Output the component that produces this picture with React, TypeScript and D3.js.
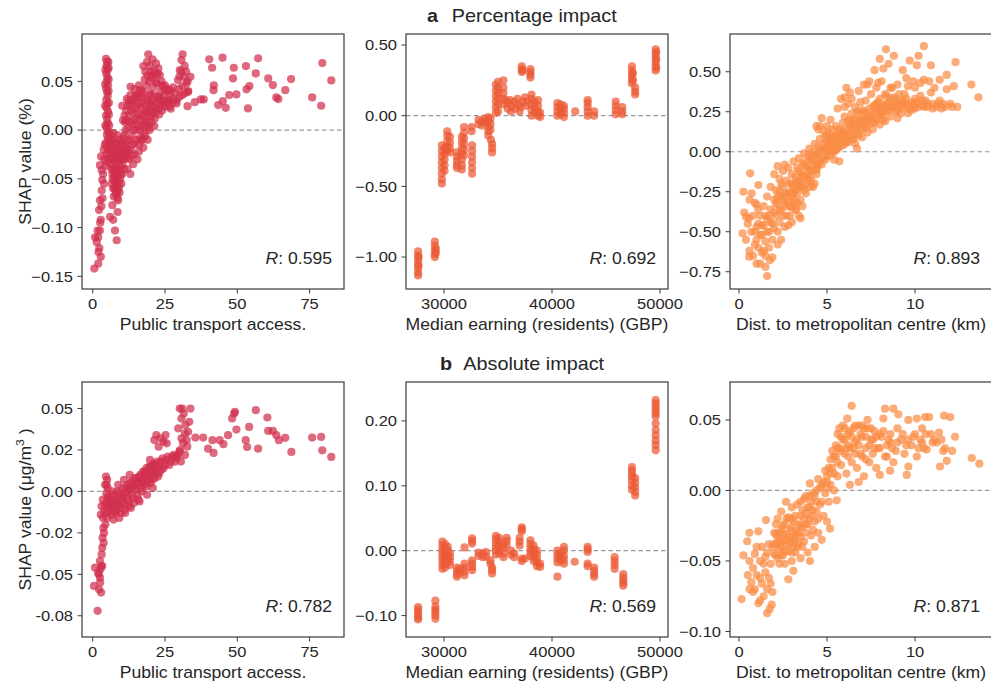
import React from 'react';
import * as d3 from 'd3';

type Pt = [number, number];
type Col = [number, number[]];

// ---- a: percentage impact ----
const transportPct: Pt[] = [
  // vertical streak near x = 5
  [4.6, 0.073], [5.0, 0.070], [4.8, 0.066], [5.2, 0.062], [4.7, 0.058], [5.1, 0.054], [4.9, 0.050], [5.3, 0.046],
  [4.6, 0.043], [5.0, 0.039], [5.2, 0.035], [4.7, 0.031], [5.1, 0.027], [4.8, 0.023], [5.3, 0.019], [4.6, 0.015],
  [5.0, 0.011], [5.2, 0.007], [4.7, 0.003], [5.1, -0.001], [4.9, -0.005], [5.3, -0.009], [4.6, -0.013], [5.0, -0.017],
  [5.4, -0.021], [4.8, -0.025], [5.5, -0.029], [5.0, -0.033], [4.4, -0.037], [5.8, -0.012], [6.0, -0.020], [5.7, 0.005],
  [5.5, 0.064], [5.5, 0.052], [5.5, 0.040], [5.6, 0.028], [5.6, 0.016], [5.8, -0.002], [4.3, 0.047], [4.3, 0.025],
  [4.4, 0.005], [4.2, -0.015], [5.4, 0.070], [4.4, 0.062],
  // lower left
  [0.55, -0.142], [0.8, -0.110], [1.4, -0.115], [1.9, -0.110], [1.7, -0.103], [2.5, -0.103], [2.3, -0.121], [2.8, -0.130],
  [1.9, -0.137], [2.2, -0.082], [2.5, -0.072], [3.1, -0.062], [2.8, -0.092], [2.5, -0.036], [2.9, -0.027], [3.1, -0.041],
  [3.3, -0.051], [3.6, -0.045], [3.9, -0.055], [3.4, -0.070], [2.6, -0.095], [2.0, -0.125], [3.0, -0.078], [4.0, -0.030],
  [3.8, -0.020],
  // V-shaped cluster
  [6.2, -0.015], [6.5, -0.025], [6.3, -0.035], [6.8, -0.045], [7.0, -0.018], [7.2, -0.030], [7.0, -0.040], [7.4, -0.052],
  [7.1, -0.060], [7.6, -0.022], [7.8, -0.035], [7.7, -0.046], [7.9, -0.058], [8.0, -0.066], [8.2, -0.028], [8.4, -0.040],
  [8.3, -0.052], [8.5, -0.062], [8.6, -0.070], [8.8, -0.020], [9.0, -0.032], [8.9, -0.045], [9.1, -0.056], [9.3, -0.064],
  [9.4, -0.025], [9.6, -0.038], [9.5, -0.050], [9.8, -0.015], [10.0, -0.030], [10.2, -0.045], [10.4, -0.022], [6.0, -0.089],
  [6.8, -0.077], [7.7, -0.103], [8.3, -0.113], [8.6, -0.084], [7.1, -0.092], [8.8, -0.072], [7.3, -0.068], [9.9, -0.055],
  [6.6, -0.055], [8.1, -0.013], [9.2, -0.010], [10.6, -0.008],
  [6.0, -0.005], [6.4, -0.010], [6.7, -0.030], [6.9, -0.050], [7.3, -0.010], [7.5, -0.042], [7.4, -0.025], [7.9, -0.015],
  [8.0, -0.045], [8.1, -0.038], [8.2, -0.055], [8.7, -0.030], [8.6, -0.050], [9.0, -0.060], [9.2, -0.042], [9.5, -0.020],
  [9.7, -0.030], [9.8, -0.045], [10.1, -0.012], [10.3, -0.035], [10.6, -0.025], [10.8, -0.040], [11.0, -0.030], [11.3, -0.015],
  [6.5, -0.040], [7.6, -0.060], [8.4, -0.065], [9.1, -0.025], [7.2, -0.003], [8.5, -0.005],
  // rising wedge
  [10.8, -0.018], [11.0, -0.005], [11.2, 0.008], [11.5, 0.020], [11.8, 0.032], [12.0, -0.012], [12.3, 0.002], [12.5, 0.014],
  [12.8, 0.026], [13.0, 0.036], [13.2, -0.020], [13.5, -0.006], [13.8, 0.006], [14.0, 0.018], [14.3, 0.030], [14.6, -0.014],
  [15.0, 0.000], [15.2, 0.012], [15.5, 0.024], [15.8, 0.034], [16.0, -0.022], [16.3, -0.008], [16.5, 0.004], [16.8, 0.016],
  [17.0, 0.028], [17.3, 0.038], [17.6, -0.004], [18.0, 0.008], [18.3, 0.020], [18.6, 0.032], [19.0, 0.002], [19.3, 0.014],
  [19.6, 0.026], [20.0, 0.036], [20.3, 0.008], [20.6, 0.018], [21.0, 0.030], [21.5, 0.012], [22.0, 0.022], [22.5, 0.034],
  [23.0, 0.016], [23.5, 0.026], [24.0, 0.020], [24.5, 0.030], [25.0, 0.024], [26.0, 0.028], [27.0, 0.022], [28.0, 0.032],
  [11.5, -0.025], [12.8, -0.030], [14.5, -0.025], [13.0, -0.045], [15.5, -0.030], [17.5, -0.018], [19.0, -0.010], [12.0, -0.040],
  [10.5, 0.010], [10.2, 0.025],
  [11.0, 0.015], [11.4, 0.000], [11.7, 0.010], [12.0, 0.025], [12.2, -0.020], [12.6, -0.010], [12.6, 0.030], [13.0, 0.008],
  [13.3, 0.020], [13.5, 0.028], [13.7, -0.015], [14.1, 0.000], [14.2, 0.010], [14.6, 0.022], [14.8, 0.035], [15.0, -0.010],
  [15.3, 0.005], [15.6, 0.016], [15.9, 0.028], [16.1, -0.015], [16.4, 0.000], [16.6, 0.010], [16.9, 0.022], [17.1, 0.034],
  [17.3, -0.010], [17.8, 0.003], [17.8, 0.014], [18.1, 0.026], [18.2, -0.006], [18.5, 0.008], [18.8, 0.018], [19.1, 0.030],
  [19.4, 0.006], [19.8, 0.020], [20.1, 0.028], [20.4, 0.014], [20.9, 0.024], [21.2, 0.036], [21.7, 0.018], [22.2, 0.028],
  [22.8, 0.022], [23.3, 0.032], [23.8, 0.030], [24.6, 0.026], [25.5, 0.030], [26.5, 0.024], [27.5, 0.028], [29.0, 0.030],
  [30.0, 0.034], [31.0, 0.036], [32.0, 0.038], [33.0, 0.040], [10.9, -0.028], [11.8, -0.022], [12.4, -0.028], [13.6, -0.026],
  [14.0, -0.035], [16.8, -0.010], [19.7, 0.000], [21.3, 0.004],
  [14.5, 0.042], [16.0, 0.046], [17.0, 0.040], [18.5, 0.045], [19.5, 0.050], [21.0, 0.044], [22.0, 0.048], [23.5, 0.040],
  [25.0, 0.038], [26.5, 0.036], [24.0, 0.046], [20.5, 0.056], [18.0, 0.052],
  // upper cluster
  [19.2, 0.0777], [20.7, 0.0726], [21.9, 0.0684], [22.7, 0.0633], [17.5, 0.0657], [18.2, 0.0599], [21.2, 0.0609], [23.2, 0.0565],
  [20.4, 0.053], [22.1, 0.0486], [24.4, 0.0445], [25.5, 0.041], [27.8, 0.0438], [31.1, 0.0777], [30.7, 0.0719], [30.1, 0.0616],
  [31.6, 0.0547], [29.5, 0.0513], [32.4, 0.0479], [33.0, 0.0393], [30.7, 0.0599], [33.8, 0.0547], [13.1, 0.0445], [16.3, 0.041],
  [15.2, 0.036], [14.0, 0.0308], [19.8, 0.0377], [23.2, 0.0342], [26.7, 0.0308], [29.0, 0.0274],
  [18.8, 0.070], [19.8, 0.066], [20.0, 0.060], [21.6, 0.056], [22.5, 0.058], [19.0, 0.056], [23.8, 0.050], [25.0, 0.046],
  [26.0, 0.042], [27.0, 0.040], [28.5, 0.038], [29.8, 0.042], [31.8, 0.066], [32.3, 0.060], [30.0, 0.055], [32.8, 0.050],
  [31.0, 0.045],
  // sparse tail
  [40.3, 0.0726], [41.3, 0.064], [44.9, 0.0743], [41.9, 0.046], [41.8, 0.041], [43.4, 0.0257], [45.0, 0.0298], [46.0, 0.0229],
  [47.2, 0.036], [48.8, 0.064], [48.5, 0.053], [49.7, 0.0366], [53.0, 0.0657], [53.2, 0.0418], [53.7, 0.0222], [54.2, 0.0452],
  [56.4, 0.0582], [57.2, 0.0736], [60.7, 0.053], [62.3, 0.0462], [63.5, 0.0335], [64.2, 0.0318], [66.6, 0.041], [68.6, 0.0524],
  [75.9, 0.0335], [79.0, 0.025], [79.4, 0.0688], [82.5, 0.051], [38.4, 0.0315], [35.3, 0.0287], [32.8, 0.0246], [37.4, 0.0315],
];

const earningPctCols: Col[] = [
  [27600, [-0.96, -0.99, -1.02, -1.05, -1.08, -1.11, -1.13]], [27650, [-1.0, -1.06]],
  [29150, [-0.89, -0.92, -0.95, -0.98, -1.0]], [29250, [-0.94, -0.97]],
  [29800, [-0.21, -0.25, -0.29, -0.33, -0.37, -0.41, -0.45, -0.48]],
  [30050, [-0.23, -0.27, -0.31, -0.35, -0.39]],
  [30300, [-0.11, -0.14, -0.18, -0.22, -0.25]],
  [30550, [-0.15, -0.19, -0.23, -0.26]],
  [31200, [-0.26, -0.29, -0.32, -0.35, -0.37]],
  [31650, [-0.15, -0.19, -0.23, -0.27, -0.31, -0.35, -0.38]],
  [31850, [-0.08, -0.12, -0.16, -0.20, -0.24, -0.28]],
  [32600, [-0.21, -0.25, -0.29, -0.33, -0.37, -0.41]], [32550, [-0.08, -0.11]],
  [33200, [-0.03, -0.06]], [33500, [-0.04, -0.07]], [33800, [-0.02, -0.05]],
  [34100, [-0.01, -0.04, -0.08, -0.11, -0.14]], [34300, [-0.02, -0.06, -0.10]],
  [34450, [-0.20, -0.23, -0.26]], [34350, [-0.17]],
  [34800, [0.02, 0.06, 0.10, 0.14, 0.18, 0.22]], [35000, [0.03, 0.08, 0.12, 0.16, 0.20, 0.24]],
  [35500, [0.08, 0.12, 0.16, 0.20, 0.25]],
  [35700, [0.11]], [35900, [0.05, 0.09]], [36100, [0.11]], [36200, [0.03]], [36300, [0.07]], [36500, [0.10]],
  [36600, [0.05]], [36800, [0.12]], [36900, [0.08]], [37000, [0.03]], [37100, [0.06]], [37300, [0.10, 0.32]],
  [37500, [0.13]], [37600, [0.07]], [37700, [0.10]],
  [37200, [0.31, 0.33, 0.35]],
  [38000, [0.27, 0.29, 0.31, 0.33]],
  [38100, [0.0, 0.04, 0.08, 0.12, 0.15]], [38400, [0.02, 0.06, 0.10]], [38700, [0.0, 0.03, 0.07, 0.11]], [38900, [-0.01, 0.02]],
  [40500, [0.0, 0.03, 0.06, 0.09]], [40800, [0.01, 0.05, 0.08]], [41100, [-0.01, 0.02, 0.05, 0.07]],
  [42150, [0.03]],
  [43300, [0.0, 0.03, 0.06, 0.09, 0.11]], [43900, [0.0, 0.03]],
  [45900, [0.01, 0.04, 0.07, 0.10]], [46500, [0.01, 0.03, 0.06]],
  [47400, [0.23, 0.26, 0.29, 0.32, 0.35]], [47500, [0.25, 0.30]],
  [47700, [0.15, 0.17, 0.20]],
  [49600, [0.32, 0.35, 0.38, 0.41, 0.44, 0.47]], [49650, [0.34, 0.40, 0.45]],
];

const distPct: Pt[] = [
  [0.2, -0.51], [0.25, -0.25], [0.63, -0.135], [0.57, -0.416], [0.58, -0.656], [1.1, -0.208], [1.6, -0.777], [1.76, -0.677],
  [0.72, -0.26], [0.9, -0.32], [0.4, -0.406],
  [0.3, -0.38], [0.5, -0.45], [0.4, -0.55], [0.6, -0.62], [0.7, -0.50], [0.8, -0.40], [0.9, -0.58], [1.0, -0.47],
  [0.8, -0.65], [1.0, -0.33], [0.6, -0.30],
  [1.1, -0.60], [1.2, -0.52], [1.2, -0.40], [1.3, -0.63], [1.4, -0.46], [1.4, -0.34], [1.5, -0.56], [1.5, -0.65],
  [1.6, -0.42], [1.6, -0.28], [1.7, -0.50], [1.7, -0.60], [1.8, -0.36], [1.8, -0.22], [1.9, -0.45], [1.9, -0.55],
  [2.0, -0.30], [2.0, -0.14], [1.2, -0.70], [1.4, -0.62], [1.9, -0.66],
  [2.1, -0.40], [2.1, -0.24], [2.2, -0.50], [2.2, -0.33], [2.3, -0.17], [2.3, -0.44], [2.4, -0.28], [2.4, -0.37],
  [2.5, -0.12], [2.5, -0.22], [2.6, -0.47], [2.6, -0.32], [2.7, -0.18], [2.7, -0.40], [2.8, -0.26], [2.8, -0.10],
  [2.9, -0.34], [2.9, -0.20], [3.0, -0.44], [3.0, -0.14], [2.4, -0.55], [2.2, -0.09], [2.6, -0.08], [3.0, -0.28],
  [3.1, -0.22], [3.1, -0.06], [3.2, -0.32], [3.2, -0.16], [3.3, -0.10], [3.3, -0.26], [3.4, -0.04], [3.4, -0.19],
  [3.5, -0.13], [3.5, -0.30], [3.6, -0.07], [3.6, -0.22], [3.7, -0.01], [3.7, -0.15], [3.8, -0.09], [3.8, -0.26],
  [3.9, -0.03], [3.9, -0.18], [4.0, -0.11], [4.0, 0.02], [3.4, -0.40], [3.2, -0.36], [3.6, -0.34], [3.5, -0.416],
  [3.24, -0.364], [4.03, -0.219], [4.41, -0.114],
  [4.1, -0.05], [4.1, -0.18], [4.2, 0.00], [4.2, -0.12], [4.3, 0.05], [4.3, -0.08], [4.4, -0.02], [4.4, -0.14],
  [4.5, 0.03], [4.5, 0.14], [4.6, -0.06], [4.6, 0.08], [4.7, 0.00], [4.7, 0.21], [4.8, -0.04], [4.8, 0.05],
  [4.9, 0.10], [4.9, 0.01], [5.0, -0.03], [5.0, 0.06], [4.2, -0.22], [4.4, 0.16],
  [5.1, 0.02], [5.1, 0.12], [5.2, -0.02], [5.2, 0.07], [5.3, 0.04], [5.3, 0.14], [5.4, 0.00], [5.4, 0.09],
  [5.5, 0.05], [5.5, 0.16], [5.6, 0.02], [5.6, 0.11], [5.7, -0.06], [5.7, 0.07], [5.8, 0.13], [5.8, 0.33],
  [5.9, 0.04], [5.9, 0.18], [6.0, 0.09], [6.0, 0.34], [6.1, 0.40], [5.4, -0.05], [6.0, 0.22],
  [6.1, 0.14], [6.2, 0.06], [6.2, 0.19], [6.3, 0.10], [6.3, 0.37], [6.4, 0.16], [6.4, 0.24], [6.5, 0.08],
  [6.5, 0.13], [6.6, 0.20], [6.6, 0.28], [6.7, 0.11], [6.7, 0.02], [6.8, 0.17], [6.8, 0.24], [6.9, 0.14],
  [6.9, 0.31], [7.0, 0.20], [7.0, 0.09], [6.6, 0.05],
  [7.1, 0.25], [7.1, 0.42], [7.2, 0.15], [7.2, 0.32], [7.3, 0.21], [7.3, 0.12], [7.4, 0.27], [7.5, 0.18],
  [7.5, 0.36], [7.6, 0.23], [7.6, 0.14], [7.7, 0.29], [7.7, 0.51], [7.8, 0.20], [7.8, 0.40], [7.9, 0.26],
  [8.0, 0.17], [8.0, 0.33], [8.0, 0.58], [7.4, 0.44],
  [8.1, 0.23], [8.1, 0.44], [8.2, 0.29], [8.3, 0.19], [8.3, 0.36], [8.4, 0.25], [8.35, 0.64], [8.5, 0.31],
  [8.5, 0.55], [8.6, 0.22], [8.6, 0.40], [8.7, 0.28], [8.8, 0.60], [8.8, 0.34], [8.9, 0.25], [9.0, 0.30],
  [9.0, 0.21], [8.7, 0.40],
  [9.1, 0.36], [9.2, 0.27], [9.3, 0.51], [9.3, 0.32], [9.5, 0.29], [9.6, 0.41], [9.6, 0.24], [9.7, 0.57],
  [9.8, 0.31], [9.9, 0.44], [10.0, 0.27], [10.1, 0.54], [10.1, 0.31], [10.2, 0.60], [10.3, 0.35], [10.4, 0.29],
  [10.5, 0.45], [10.5, 0.66], [10.6, 0.32], [9.4, 0.36],
  [10.7, 0.28], [10.9, 0.54], [10.9, 0.37], [11.0, 0.30], [11.2, 0.28], [11.4, 0.32], [11.4, 0.45], [11.6, 0.30],
  [11.7, 0.28], [11.8, 0.48], [11.8, 0.39], [12.1, 0.28], [12.2, 0.41], [12.3, 0.56], [13.2, 0.42], [13.6, 0.34],
  [10.8, 0.44], [11.1, 0.40],
  // denser core of the cloud
  [1.0, -0.55], [1.1, -0.45], [1.3, -0.52], [1.5, -0.40], [1.6, -0.50], [1.8, -0.44], [2.0, -0.38], [2.0, -0.48],
  [2.1, -0.32], [2.3, -0.36], [2.3, -0.25], [2.5, -0.30], [2.5, -0.40], [2.7, -0.28], [2.7, -0.34], [2.9, -0.25],
  [3.0, -0.20], [3.1, -0.30], [3.2, -0.24], [3.3, -0.18], [3.4, -0.12], [3.5, -0.22], [3.6, -0.15], [3.7, -0.08],
  [3.8, -0.20], [3.9, -0.10], [4.0, -0.05], [4.1, -0.12], [4.3, -0.02], [4.5, -0.08], [4.6, 0.01], [4.8, 0.02],
  [5.0, 0.00], [5.0, 0.10], [5.2, 0.03], [5.3, 0.09], [5.5, 0.01], [5.5, 0.10], [5.7, 0.03], [5.7, 0.14],
  [5.9, 0.08], [5.9, 0.12], [6.1, 0.06], [6.2, 0.12], [6.3, 0.16], [6.4, 0.08], [6.5, 0.20], [6.6, 0.14],
  [6.8, 0.10], [6.9, 0.20], [7.0, 0.14], [7.1, 0.18], [7.2, 0.24], [7.3, 0.17], [7.5, 0.22], [7.6, 0.28],
  [7.7, 0.18], [7.8, 0.25], [7.9, 0.31], [8.0, 0.22], [8.1, 0.28], [8.2, 0.20], [8.4, 0.30], [8.5, 0.26],
  [8.6, 0.33], [8.8, 0.29], [9.0, 0.26], [9.1, 0.31], [9.2, 0.24], [9.4, 0.30], [9.6, 0.27], [9.8, 0.29],
  [10.0, 0.33], [10.2, 0.28], [10.4, 0.32], [10.7, 0.30], [11.0, 0.27], [11.3, 0.30], [11.5, 0.27], [12.0, 0.30],
  [12.4, 0.28], [5.2, 0.20], [5.0, 0.16], [4.6, 0.16], [4.8, 0.13], [6.0, 0.28], [6.2, 0.30], [6.4, 0.33],
  [5.6, 0.27], [6.8, 0.38], [7.3, 0.42], [7.9, 0.43], [8.2, 0.52], [9.0, 0.42], [9.5, 0.46], [10.0, 0.40],
  [10.3, 0.43], [4.0, -0.16], [4.3, -0.20], [3.0, -0.35], [2.8, -0.46], [2.2, -0.58], [1.0, -0.70], [1.5, -0.72],
  [2.2, -0.28], [2.4, -0.20], [2.6, -0.26], [2.8, -0.32], [2.9, -0.40], [3.1, -0.26], [3.3, -0.22], [3.3, -0.32],
  [3.5, -0.18], [3.7, -0.24], [3.9, -0.14], [4.1, -0.02], [4.2, -0.06], [4.4, -0.10], [4.5, -0.04], [4.7, -0.08],
  [4.9, -0.05], [5.1, 0.06], [5.3, 0.00], [5.6, 0.06], [5.8, 0.10], [6.0, 0.05], [6.1, 0.10], [6.3, 0.20],
  [6.5, 0.17], [6.7, 0.25], [6.9, 0.18], [7.0, 0.26], [7.2, 0.20], [7.4, 0.22], [7.6, 0.19], [7.8, 0.30],
  [8.0, 0.26], [8.2, 0.25], [8.4, 0.35], [8.6, 0.28], [8.9, 0.33], [9.2, 0.29], [9.5, 0.33], [9.8, 0.26],
  [10.0, 0.30], [10.5, 0.28], [1.7, -0.40], [1.3, -0.46], [0.9, -0.50], [1.1, -0.36],
];

// ---- b: absolute impact ----
const transportAbs: Pt[] = [
  [1.7, -0.072], [0.45, -0.057], [0.8, -0.046], [1.9, -0.049], [2.5, -0.052], [2.2, -0.059], [2.9, -0.061], [2.5, -0.042],
  [3.1, -0.038], [3.3, -0.034], [3.4, -0.028], [3.7, -0.022], [2.8, -0.014], [3.1, -0.009], [3.6, -0.016], [3.9, -0.025],
  [2.6, -0.055], [3.0, -0.045], [3.8, -0.031], [2.1, -0.050], [4.0, -0.012], [3.5, -0.005], [3.3, -0.045], [2.7, -0.047],
  [4.6, 0.009], [5.0, 0.007], [4.8, 0.004], [5.2, 0.002], [4.7, -0.001], [5.1, -0.004], [4.9, -0.007], [5.3, -0.010],
  [4.6, -0.013], [5.0, -0.016], [5.5, -0.003], [5.7, -0.008], [4.4, -0.020], [4.2, -0.008], [4.3, 0.004],
  [6.0, -0.012], [6.5, -0.006], [7.0, -0.010], [7.5, -0.004], [8.0, -0.013], [8.5, -0.007], [9.0, -0.001], [9.5, -0.010],
  [10.0, -0.004], [10.5, 0.002], [11.0, -0.008], [11.5, -0.001], [12.0, 0.004], [12.5, -0.006], [13.0, 0.001], [13.5, 0.006],
  [14.0, -0.004], [14.5, 0.003], [15.0, 0.008], [15.5, -0.002], [16.0, 0.005], [16.5, 0.010], [17.0, 0.000], [17.5, 0.007],
  [18.0, 0.012], [18.5, 0.003], [19.0, 0.009], [19.5, 0.015], [20.0, 0.005], [20.5, 0.012], [21.0, 0.017], [21.5, 0.008],
  [22.0, 0.014], [23.0, 0.011], [23.5, 0.018], [24.5, 0.014], [25.5, 0.019], [26.5, 0.016], [27.5, 0.021], [28.5, 0.018],
  [29.5, 0.022], [7.2, -0.017], [9.2, -0.016], [11.2, -0.013], [13.2, -0.010], [16.2, -0.006], [18.8, -0.002], [20.8, 0.002],
  [6.8, 0.000], [8.8, 0.004], [10.8, 0.007], [12.8, 0.010], [19.8, 0.019],
  [5.8, -0.004], [6.2, -0.009], [6.6, -0.014], [7.0, -0.002], [7.5, -0.012], [7.9, -0.006], [8.3, -0.011], [8.6, 0.000],
  [9.0, -0.008], [9.4, -0.003], [9.8, -0.013], [10.2, -0.007], [10.6, -0.003], [11.0, -0.011], [11.4, 0.002], [11.8, -0.005],
  [12.2, 0.000], [12.6, -0.009], [13.0, 0.005], [13.4, -0.002], [13.8, 0.003], [14.2, -0.007], [14.6, 0.008], [15.0, 0.001],
  [15.4, 0.005], [15.8, -0.005], [16.2, 0.009], [16.6, 0.002], [17.0, 0.006], [17.4, 0.012], [17.8, 0.004], [18.2, 0.009],
  [18.6, 0.014], [19.0, 0.006], [19.4, 0.011], [19.8, 0.008], [20.2, 0.015], [20.6, 0.007], [21.0, 0.012], [21.4, 0.016],
  [21.8, 0.011], [22.4, 0.018], [22.6, 0.009], [23.2, 0.015], [23.8, 0.013], [24.2, 0.020], [25.0, 0.016], [26.0, 0.021],
  [27.0, 0.018], [28.0, 0.022], [29.0, 0.020], [30.0, 0.024], [30.5, 0.018],
  [21.3, 0.031], [22.0, 0.034], [23.5, 0.032], [24.5, 0.030], [25.2, 0.034], [25.6, 0.029], [22.8, 0.027],
  [30.1, 0.050], [31.0, 0.050], [33.8, 0.050], [30.7, 0.044], [33.4, 0.042], [29.6, 0.038], [31.9, 0.035], [30.7, 0.032],
  [32.7, 0.027], [31.9, 0.022], [28.9, 0.021], [31.2, 0.029], [30.2, 0.025], [32.0, 0.040], [33.0, 0.036], [31.5, 0.047],
  [32.5, 0.031],
  [35.5, 0.0325], [38.2, 0.0325], [39.9, 0.0258], [41.4, 0.0309], [41.8, 0.0232], [43.9, 0.0309], [45.2, 0.0285], [46.8, 0.0339],
  [48.2, 0.044], [48.9, 0.047], [49.2, 0.048], [49.7, 0.0373], [52.9, 0.0309], [53.4, 0.0268], [54.1, 0.0389], [56.4, 0.049],
  [57.2, 0.0258], [60.4, 0.0446], [60.7, 0.0365], [62.3, 0.0365], [63.5, 0.0339], [64.4, 0.0309], [66.6, 0.0323], [68.7, 0.0238],
  [75.9, 0.0325], [79.0, 0.0329], [79.4, 0.0248], [82.5, 0.0208],
];

const earningAbsCols: Col[] = [
  [27600, [-0.087, -0.091, -0.095, -0.099, -0.103, -0.106]],
  [29200, [-0.077, -0.086, -0.091, -0.095, -0.100, -0.105]],
  [29850, [0.014, 0.008, 0.002, -0.004, -0.010, -0.016, -0.022, -0.028]],
  [30100, [0.010, 0.004, -0.002, -0.008, -0.014, -0.020, -0.026]],
  [30350, [0.006, 0.000, -0.006, -0.012, -0.018]],
  [30550, [-0.004, -0.010, -0.016, -0.022]],
  [31200, [-0.026, -0.031, -0.036, -0.040]], [31500, [-0.028, -0.034]],
  [31900, [0.005, -0.020, -0.026, -0.032, -0.038]],
  [32600, [0.019, 0.015, 0.011, -0.015, -0.020, -0.025, -0.030]],
  [33200, [-0.003, -0.008]], [33600, [-0.004, -0.010]], [33900, [-0.002, -0.009]],
  [34300, [-0.015, -0.020]], [34450, [-0.026, -0.030, -0.035]],
  [34800, [0.023, 0.018, 0.012, 0.006, 0.000, -0.006]], [35100, [0.020, 0.014, 0.008, 0.002, -0.004]],
  [35500, [0.010, 0.004, -0.004, -0.010]],
  [35800, [0.020, 0.015, 0.008]], [36200, [0.000, -0.006]], [36500, [-0.004, -0.010]],
  [37000, [0.020, 0.014, 0.008]], [37200, [0.036, 0.033, 0.030, -0.012, -0.016]], [37500, [-0.012]],
  [38000, [0.016, 0.010, 0.004, -0.002, -0.008]], [38300, [0.008, 0.002, -0.004, -0.010, -0.016]],
  [38600, [0.000, -0.006, -0.012, -0.018, -0.024]], [38900, [-0.020, -0.025]],
  [40500, [0.000, -0.006, -0.012, -0.018, -0.040]], [40800, [-0.004, -0.010, -0.016]],
  [41100, [0.006, 0.000, -0.008, -0.014, -0.020]],
  [42100, [-0.017]],
  [43300, [0.006, 0.002, -0.002, -0.020, -0.024]], [43900, [-0.026, -0.031, -0.036, -0.040]],
  [45800, [-0.010, -0.016, -0.022, -0.028]],
  [46600, [-0.036, -0.041, -0.046, -0.050, -0.054]],
  [47400, [0.129, 0.124, 0.119, 0.114, 0.108, 0.100, 0.094]], [47700, [0.112, 0.105, 0.098, 0.091, 0.085]],
  [49600, [0.232, 0.227, 0.222, 0.217, 0.212, 0.207, 0.196, 0.186, 0.178, 0.170, 0.163, 0.155]],
];

const distAbs: Pt[] = [
  [0.15, -0.077], [0.25, -0.046], [0.47, -0.036], [0.59, -0.030], [1.1, -0.029], [1.1, -0.080], [1.6, -0.087], [1.86, -0.081],
  [0.5, -0.060], [0.7, -0.065], [0.8, -0.055], [0.9, -0.070], [1.0, -0.060], [1.2, -0.050], [1.3, -0.066], [1.4, -0.075],
  [1.5, -0.058], [1.6, -0.070], [1.7, -0.062], [1.8, -0.052], [1.9, -0.072], [0.6, -0.050], [0.9, -0.045], [1.3, -0.040],
  [1.5, -0.047], [1.7, -0.038], [1.53, -0.021], [1.2, -0.078], [1.75, -0.084],
  [1.0, -0.040], [1.2, -0.062], [0.8, -0.072], [1.4, -0.052], [1.6, -0.044], [1.8, -0.066], [1.9, -0.040], [0.6, -0.070],
  [2.0, -0.045], [2.0, -0.030], [2.1, -0.038], [2.2, -0.020], [2.2, -0.048], [2.3, -0.030], [2.4, -0.040], [2.4, -0.015],
  [2.5, -0.025], [2.5, -0.046], [2.6, -0.035], [2.67, -0.008], [2.7, -0.020], [2.8, -0.043], [2.8, -0.063], [2.9, -0.028],
  [3.0, -0.012], [3.0, -0.036], [3.09, -0.057], [3.1, -0.022], [3.2, -0.044], [3.3, -0.030], [3.3, -0.010], [3.4, -0.038],
  [3.5, -0.018], [3.5, -0.048], [3.6, -0.026], [3.7, -0.006], [3.7, -0.036], [3.8, -0.016], [3.9, -0.044], [3.9, -0.024],
  [4.0, -0.004], [4.03, -0.050], [4.03, 0.005], [4.1, -0.032], [4.2, -0.014], [4.3, -0.040], [4.3, -0.022], [4.4, 0.000],
  [4.5, -0.030], [2.3, -0.052], [2.6, -0.052], [3.0, -0.050], [2.1, -0.024],
  [2.0, -0.038], [2.1, -0.046], [2.2, -0.034], [2.3, -0.041], [2.4, -0.028], [2.5, -0.036], [2.6, -0.024], [2.6, -0.043],
  [2.7, -0.031], [2.8, -0.019], [2.9, -0.038], [3.0, -0.026], [3.0, -0.044], [3.1, -0.033], [3.2, -0.018], [3.2, -0.029],
  [3.3, -0.040], [3.4, -0.024], [3.5, -0.033], [3.5, -0.008], [3.6, -0.040], [3.7, -0.020], [3.8, -0.030], [3.8, -0.004],
  [3.9, -0.012], [4.0, -0.020], [4.1, -0.008], [4.2, -0.028], [4.3, -0.004], [4.4, -0.015], [4.5, -0.020],
  [2.1, -0.031], [2.3, -0.036], [2.4, -0.046], [2.5, -0.031], [2.7, -0.038], [2.9, -0.033], [3.0, -0.020], [3.1, -0.040],
  [3.2, -0.035], [3.4, -0.030], [3.5, -0.025], [3.6, -0.014], [3.8, -0.024], [4.0, -0.012], [4.1, -0.018], [4.2, -0.002],
  [4.4, -0.008],
  [4.6, -0.010], [4.7, 0.004], [4.8, -0.018], [4.9, -0.002], [5.0, 0.010], [5.1, -0.008], [5.17, -0.027], [5.2, 0.004],
  [5.3, 0.016], [5.4, 0.000], [5.5, 0.024], [5.55, -0.007], [5.6, 0.010], [5.7, 0.030], [5.8, 0.018], [5.9, 0.036],
  [6.0, 0.026], [4.7, -0.035], [5.0, -0.022], [5.3, 0.028], [5.6, 0.040], [4.5, 0.008],
  [4.6, 0.002], [4.7, -0.008], [4.8, 0.006], [4.9, 0.014], [5.0, 0.002], [5.1, 0.016], [5.2, 0.022], [5.4, 0.012],
  [5.5, 0.032], [5.6, 0.020], [5.7, 0.044], [5.8, 0.028], [5.9, 0.046], [6.0, 0.036],
  [5.0, 0.006], [5.2, 0.012], [5.4, 0.024], [5.6, 0.030], [5.8, 0.038], [6.0, 0.044],
  [6.1, 0.012], [6.15, 0.051], [6.2, 0.040], [6.3, 0.030], [6.4, 0.060], [6.4, 0.020], [6.5, 0.044], [6.6, 0.034],
  [6.7, 0.016], [6.8, 0.046], [6.9, 0.026], [7.0, 0.038], [7.1, 0.010], [7.2, 0.030], [7.3, 0.044], [7.4, 0.020],
  [7.5, 0.036], [7.6, 0.026], [7.7, 0.042], [7.8, 0.016], [7.9, 0.030], [8.0, 0.011], [8.1, 0.038], [8.2, 0.051],
  [8.3, 0.058], [8.3, 0.024], [8.4, 0.032], [8.58, 0.014], [8.6, 0.040], [8.77, 0.058], [8.77, 0.020], [8.9, 0.028],
  [9.05, 0.054], [9.2, 0.036], [9.4, 0.026], [9.53, 0.011], [9.62, 0.050], [9.62, 0.017], [9.8, 0.032], [10.0, 0.040],
  [10.1, 0.051], [10.1, 0.024], [10.3, 0.036], [10.5, 0.030], [10.57, 0.052], [10.66, 0.029], [10.8, 0.052], [10.9, 0.040],
  [11.0, 0.034], [11.23, 0.034], [11.36, 0.041], [11.42, 0.017], [11.6, 0.028], [11.65, 0.053], [11.7, 0.030], [11.8, 0.021],
  [12.0, 0.052], [12.27, 0.038], [13.22, 0.023], [13.65, 0.019], [6.3, 0.004], [6.8, 0.006], [7.3, 0.050], [9.0, 0.044],
  [10.4, 0.044], [12.1, 0.028],
  [6.1, 0.030], [6.2, 0.024], [6.3, 0.042], [6.5, 0.030], [6.6, 0.046], [6.7, 0.036], [6.9, 0.040], [7.0, 0.024],
  [7.1, 0.044], [7.2, 0.038], [7.4, 0.032], [7.5, 0.044], [7.7, 0.030], [7.8, 0.038], [8.0, 0.030], [8.2, 0.042],
  [8.4, 0.024], [8.5, 0.036], [8.7, 0.030], [9.0, 0.034], [9.3, 0.040], [9.5, 0.032], [9.9, 0.038], [10.2, 0.030],
  [10.6, 0.040], [11.1, 0.036], [11.5, 0.036],
  [6.2, 0.032], [6.4, 0.038], [6.6, 0.026], [6.8, 0.032], [7.0, 0.046], [7.2, 0.022], [7.6, 0.036], [8.0, 0.040],
  [8.6, 0.034], [9.6, 0.036], [10.4, 0.034],
];

// ticks and labels
const transportTicks = [0, 25, 50, 75];
const earningTicks = [30000, 40000, 50000];
const distTicks = [0, 5, 10];
const transportPctY = [-0.15, -0.1, -0.05, 0, 0.05];
const earningPctY = [-1.0, -0.5, 0, 0.5];
const distPctY = [-0.75, -0.5, -0.25, 0, 0.25, 0.5];
const transportAbsY = [-0.075, -0.05, -0.025, 0, 0.025, 0.05];
const transportAbsYLabels = ['-0.08', '-0.05', '-0.02', '0.00', '0.02', '0.05'];
const earningAbsY = [-0.1, 0, 0.1, 0.2];
const distAbsY = [-0.1, -0.05, 0, 0.05];
const xTitles = ['Public transport access.', 'Median earning (residents) (GBP)', 'Dist. to metropolitan centre (km)'];
const rValues = ['0.595', '0.692', '0.893', '0.782', '0.569', '0.871'];
const colors = ['#d12f4d', '#ec5a36', '#f98c45'];

const flat = (cols: Col[]): Pt[] => cols.flatMap(([x, ys]) => ys.map(y => [x, y] as Pt));

const W = 262, H = 255;
const colX = [82, 406, 730];
const rowY = [34, 382];
const SX = 1.1; // the source figure is slightly stretched horizontally
const FONT = 'Liberation Sans, Arial, sans-serif';
const INK = '#262626';

function T(props: { x: number; y: number; size: number; anchor?: string; rotate?: boolean; weight?: string; children: React.ReactNode }) {
  const { x, y, size, anchor = 'start', rotate, weight, children } = props;
  return (
    <text transform={`translate(${x},${y})${rotate ? ' rotate(-90)' : ''} scale(${SX},1)`}
      fontSize={size} textAnchor={anchor} fontWeight={weight} fill={INK} fontFamily={FONT}>
      {children}
    </text>
  );
}

export default function App() {
  const panels = [
    { data: transportPct, c: 0, r: 0, xd: [-3.7, 86.9], yd: [-0.163, 0.0986], xt: transportTicks, yt: transportPctY, ytl: null as string[] | null },
    { data: flat(earningPctCols), c: 1, r: 0, xd: [26480, 50740], yd: [-1.226, 0.578], xt: earningTicks, yt: earningPctY, ytl: null },
    { data: distPct, c: 2, r: 0, xd: [-0.51, 14.37], yd: [-0.858, 0.736], xt: distTicks, yt: distPctY, ytl: null },
    { data: transportAbs, c: 0, r: 1, xd: [-3.7, 86.9], yd: [-0.0878, 0.066], xt: transportTicks, yt: transportAbsY, ytl: transportAbsYLabels },
    { data: flat(earningAbsCols), c: 1, r: 1, xd: [26480, 50740], yd: [-0.133, 0.26], xt: earningTicks, yt: earningAbsY, ytl: null },
    { data: distAbs, c: 2, r: 1, xd: [-0.51, 14.37], yd: [-0.1039, 0.0769], xt: distTicks, yt: distAbsY, ytl: null },
  ];
  const fmt = d3.format('.2f');

  return (
    <div style={{ position: 'absolute', left: 0, top: 0 }}>
      <svg width={991} height={686} style={{ display: 'block', background: '#fff' }}>
        {panels.map((p, i) => {
          const x0 = colX[p.c], y0 = rowY[p.r];
          const x = d3.scaleLinear().domain(p.xd).range([0, W]);
          const y = d3.scaleLinear().domain(p.yd).range([H, 0]);
          return (
            <g key={i} transform={`translate(${x0},${y0})`}>
              <defs>
                <clipPath id={`clip${i}`}><rect width={W} height={H} /></clipPath>
              </defs>
              <line x1={0} x2={W} y1={y(0)} y2={y(0)} stroke="#999" strokeWidth={1.2} strokeDasharray="4.5,3" />
              <g clipPath={`url(#clip${i})`}>
                {p.data.map((d, j) => (
                  <circle key={j} cx={x(d[0])} cy={y(d[1])} r={4.1} fill={colors[p.c]} fillOpacity={0.72} />
                ))}
              </g>
              <rect width={W} height={H} fill="none" stroke="#3a3a3a" strokeWidth={1.2} />
              {p.xt.map(t => (
                <g key={`x${t}`}>
                  <line x1={x(t)} x2={x(t)} y1={H} y2={H + 4.5} stroke="#3a3a3a" strokeWidth={1} />
                  <T x={x(t)} y={H + 20} size={15} anchor="middle">{String(t)}</T>
                </g>
              ))}
              {p.yt.map((t, k) => (
                <g key={`y${t}`}>
                  <line x1={-4.5} x2={0} y1={y(t)} y2={y(t)} stroke="#3a3a3a" strokeWidth={1} />
                  <T x={-9} y={y(t) + 5.3} size={15} anchor="end">{p.ytl ? p.ytl[k] : fmt(t)}</T>
                </g>
              ))}
              <T x={W / 2} y={H + 41} size={16} anchor="middle">{xTitles[p.c]}</T>
              <text transform={`translate(${W - 12},${H - 25}) scale(${SX},1)`} fontSize={16} textAnchor="end" fill={INK} fontFamily={FONT}>
                <tspan fontStyle="italic">R</tspan>: {rValues[i]}
              </text>
            </g>
          );
        })}

        <T x={31} y={rowY[0] + H / 2} size={16} anchor="middle" rotate>SHAP value (%)</T>
        <text transform={`translate(31,${rowY[1] + H / 2}) rotate(-90) scale(${SX},1)`} fontSize={16} textAnchor="middle" fill={INK} fontFamily={FONT}>
          SHAP value (μg/m<tspan dy={-7} fontSize={11}>3</tspan><tspan dy={7}> )</tspan>
        </text>

        <T x={427} y={22} size={18} weight="bold">a</T>
        <T x={451.7} y={22} size={18}>Percentage impact</T>
        <T x={440} y={370} size={18} weight="bold">b</T>
        <T x={463.3} y={370} size={18}>Absolute impact</T>
      </svg>
    </div>
  );
}
